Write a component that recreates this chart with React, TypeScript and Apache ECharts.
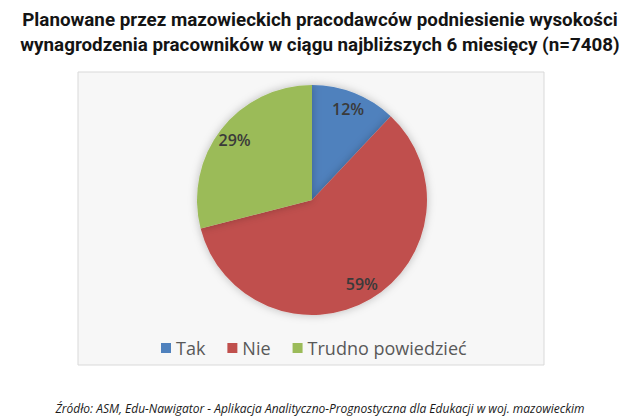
import React, { useEffect, useRef } from "react";
import * as echarts from "echarts";

const categories = ["Tak", "Nie", "Trudno powiedzieć"];
const values = [12, 59, 29];
const colors = ["#4f81bd", "#c0504d", "#9bbb59"];
const titleLines = [
  "Planowane przez mazowieckich pracodawców podniesienie wysokości",
  "wynagrodzenia pracowników w ciągu najbliższych 6 miesięcy (n=7408)",
];
const sourceText =
  "Źródło: ASM, Edu-Nawigator - Aplikacja Analityczno-Prognostyczna dla Edukacji w woj. mazowieckim";

export default function App() {
  const ref = useRef<HTMLDivElement>(null);
  useEffect(() => {
    if (!ref.current) return;
    const chart = echarts.init(ref.current, undefined, { renderer: "svg" });
    const data = categories.map((name, i) => ({
      name,
      value: values[i],
      itemStyle: { color: colors[i] },
    }));
    chart.setOption({
      animation: false,
      backgroundColor: "#ffffff",
      title: {
        text: titleLines.join("\n"),
        left: "center",
        top: 2,
        textStyle: {
          fontFamily: "Roboto",
          fontWeight: "bold",
          fontSize: 18.8,
          lineHeight: 25,
          color: "#141414",
        },
      },
      graphic: [
        {
          type: "rect",
          z: -10,
          shape: { x: 78, y: 72, width: 466, height: 293 },
          style: { fill: "#f7f7f7", stroke: "#d9d9d9", lineWidth: 1 },
        },
        {
          type: "text",
          x: 320,
          y: 408,
          style: {
            text: sourceText,
            align: "center",
            verticalAlign: "middle",
            fontFamily: "Open Sans",
            fontStyle: "italic",
            fontSize: 12,
            fill: "#1a1a1a",
          },
        },
      ],
      legend: {
        data: categories,
        left: 156,
        top: 334,
        icon: "rect",
        itemWidth: 10,
        itemHeight: 10,
        itemGap: 22,
        textStyle: { fontFamily: "Open Sans", fontSize: 18, color: "#595959" },
      },
      series: [
        {
          type: "pie",
          center: [312, 200],
          radius: [0, 115],
          startAngle: 90,
          clockwise: true,
          label: { show: false },
          labelLine: { show: false },
          itemStyle: {
            shadowBlur: 8,
            shadowColor: "rgba(0,0,0,0.25)",
          },
          emphasis: { disabled: true },
          data,
        },
        {
          type: "pie",
          center: [312, 200],
          radius: [75, 115],
          startAngle: 90,
          clockwise: true,
          silent: true,
          itemStyle: { color: "rgba(0,0,0,0)" },
          label: {
            show: true,
            position: "inside",
            formatter: "{c}%",
            fontFamily: "Open Sans",
            fontWeight: 600,
            fontSize: 16,
            color: "#3a3a3a",
          },
          labelLine: { show: false },
          emphasis: { disabled: true },
          data: categories.map((name, i) => ({
            name,
            value: values[i],
            itemStyle: { color: "rgba(0,0,0,0)" },
          })),
        },
      ],
    });
    return () => chart.dispose();
  }, []);
  return (
    <div
      ref={ref}
      style={{ position: "fixed", left: 0, top: 0, width: 640, height: 417 }}
    />
  );
}
